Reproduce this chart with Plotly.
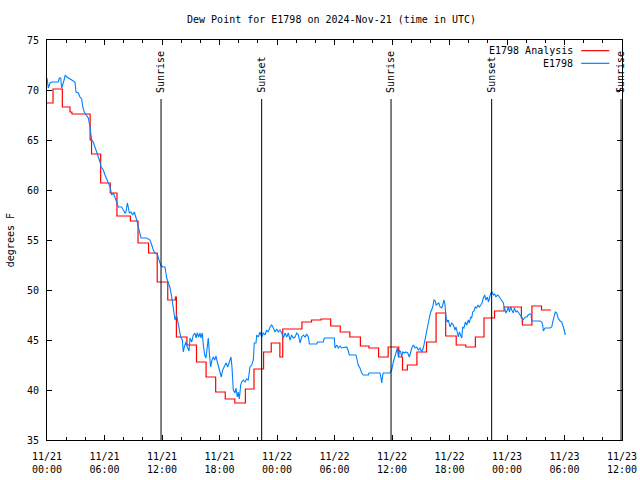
import pandas as pd
import plotly.graph_objects as go

BASE = pd.Timestamp("2024-11-21 00:00")

# Analysis series (step function): hours after 11/21 00:00 UTC, degrees F
red_hours = [0.0, 0.63, 1.6, 2.4, 2.6, 4.5, 4.65, 5.6, 6.6, 7.3, 8.7, 9.5, 10.6, 11.5,
             12.6, 13.4, 13.5, 14.6, 15.6, 16.6, 17.6, 18.6, 19.6, 20.7, 21.6, 22.6,
             23.4, 24.3, 24.6, 26.6, 27.6, 28.6, 29.6, 30.6, 31.6, 32.7, 33.6, 34.6,
             35.6, 36.7, 37.1, 37.6, 38.6, 39.6, 40.6, 41.6, 42.7, 43.7, 44.7, 45.6,
             46.7, 47.7, 49.5, 49.6, 50.6, 51.6, 52.6]
red_vals = [68.7, 70.1, 68.3, 67.8, 67.6, 65.0, 63.6, 60.7, 59.7, 57.4, 56.9, 54.7, 53.7, 50.8,
            49.0, 49.3, 45.3, 44.5, 42.8, 41.3, 39.8, 39.1, 38.7, 40.1, 42.1, 43.8,
            44.7, 43.3, 46.1, 46.8, 47.0, 47.1, 46.4, 45.8, 45.3, 44.4, 44.2, 43.3,
            44.3, 43.3, 42.0, 42.5, 43.8, 44.8, 47.7, 45.4, 44.5, 44.3, 45.3, 47.2,
            47.9, 48.3, 47.2, 46.5, 48.4, 48.0, 48.0]

# Observed series
obs_hours = [0.0, 0.14, 0.31, 0.55, 1.18, 1.28, 1.43, 1.53, 1.70, 1.91, 2.06, 2.33, 2.58, 2.92,
             3.03, 3.27, 3.44, 3.62, 3.73, 3.89, 4.14, 4.31, 4.49, 4.59, 4.66, 4.83, 4.94,
             5.11, 5.25, 5.40, 5.53, 5.64, 5.88, 6.05, 6.23, 6.40, 6.58, 6.75, 6.92, 7.10,
             7.27, 7.44, 7.79, 7.96, 8.14, 8.24, 8.38, 8.48, 8.59, 8.77, 8.94, 9.11, 9.29,
             9.42, 9.60, 9.71, 9.81, 10.40, 10.75, 10.93, 11.09, 11.27, 11.51, 11.69, 11.86,
             12.07, 12.31, 12.49, 12.66, 12.84, 13.01, 13.12, 13.25, 13.36, 13.53, 13.64,
             13.81, 13.95, 14.12, 14.22, 14.33, 14.50, 14.64, 14.82, 14.92, 15.10, 15.27,
             15.44, 15.55, 15.68, 15.83, 15.97, 16.07, 16.21, 16.31, 16.46, 16.59, 16.73,
             16.83, 16.94, 17.08, 17.22, 17.35, 17.50, 17.64, 17.77, 17.92, 18.05, 18.19,
             18.33, 18.50, 18.68, 18.86, 19.02, 19.10, 19.20, 19.30, 19.44, 19.62, 19.72,
             19.86, 19.96, 20.07, 20.21, 20.32, 20.48, 20.66, 20.84, 21.00, 21.18, 21.36,
             21.53, 21.63, 21.81, 21.88, 22.05, 22.23, 22.40, 22.57, 22.75, 22.92, 23.09,
             23.27, 23.45, 23.62, 23.79, 23.97, 24.14, 24.31, 24.49, 24.66, 24.84, 25.01,
             25.18, 25.36, 25.53, 25.70, 25.88, 26.06, 26.23, 26.40, 26.58, 26.75, 26.93,
             27.10, 27.27, 27.38, 28.14, 28.23, 28.83, 28.94, 29.98, 30.05, 30.23, 30.40,
             30.58, 30.75, 31.27, 31.41, 31.55, 32.24, 32.32, 32.48, 32.66, 32.84, 33.00,
             33.53, 33.60, 34.75, 34.85, 34.93, 35.03, 35.09, 35.79, 35.97, 36.14, 36.31,
             36.42, 36.56, 36.66, 36.77, 36.91, 37.01, 37.12, 37.28, 37.46, 37.64, 37.81,
             38.06, 38.23, 38.41, 38.58, 38.75, 38.92, 39.10, 39.27, 39.44, 39.55, 39.68,
             39.79, 39.89, 40.04, 40.14, 40.25, 40.38, 40.52, 40.60, 40.73, 40.88, 41.01,
             41.19, 41.29, 41.43, 41.53, 41.64, 41.77, 41.88, 42.05, 42.23, 42.40, 42.58,
             42.68, 42.82, 42.92, 43.03, 43.17, 43.28, 43.38, 43.51, 43.65, 43.80, 43.97,
             44.07, 44.21, 44.32, 44.42, 44.56, 44.69, 44.84, 44.98, 45.12, 45.26, 45.39,
             45.53, 45.67, 45.81, 45.95, 46.06, 46.16, 46.31, 46.44, 46.58, 46.72, 46.85,
             46.99, 47.13, 47.27, 47.45, 47.62, 47.72, 47.90, 48.04, 48.14, 48.25, 48.39,
             48.50, 48.66, 48.77, 48.94, 49.08, 49.19, 49.37, 49.50, 49.67, 49.81, 49.92,
             50.09, 50.20, 50.37, 50.51, 50.58, 51.45, 51.62, 51.73, 51.79, 51.97, 52.49,
             52.67, 52.77, 52.91, 53.04, 53.19, 53.33, 53.54, 53.71, 53.88, 53.98, 54.09]
obs_vals = [71.2, 70.2, 70.7, 70.8, 70.8, 71.2, 71.2, 70.2, 70.7, 71.5, 71.3, 71.1, 71.0, 70.8,
            69.8, 69.7, 69.3, 69.1, 68.3, 67.8, 67.5, 67.2, 66.3, 65.7, 65.0, 64.8, 64.5,
            64.0, 63.5, 63.2, 62.8, 62.3, 62.0, 61.5, 61.0, 60.7, 60.3, 59.5, 59.7, 59.3,
            58.8, 58.3, 58.3, 58.0, 57.7, 57.8, 58.7, 58.3, 57.7, 57.8, 57.5, 57.8, 57.3,
            56.8, 56.0, 55.7, 55.2, 55.2, 55.0, 54.5, 54.0, 53.7, 53.6, 53.0, 52.5,
            52.3, 52.3, 51.2, 50.7, 50.2, 49.3, 48.5, 48.0, 47.0, 47.5, 46.8,
            46.0, 45.3, 45.0, 43.8, 44.3, 44.8, 44.3, 43.9, 45.2, 44.8, 45.5,
            45.7, 45.2, 45.7, 45.3, 45.7, 45.2, 45.7, 44.5, 43.5, 43.2, 44.3,
            45.2, 43.7, 42.3, 43.0, 43.3, 43.0, 43.4, 42.8, 42.3, 42.0, 41.3,
            42.0, 42.3, 42.7, 42.3, 42.8, 43.2, 43.3, 42.3, 40.0, 39.7, 40.2,
            39.3, 39.8, 39.1, 40.5, 40.8, 41.0, 40.8, 41.1, 41.0, 42.3, 42.5,
            43.0, 44.7, 44.7, 45.5, 45.3, 45.8, 45.3, 45.7, 45.5, 46.0, 45.8,
            46.3, 46.5, 46.2, 45.8, 46.1, 45.8, 46.0, 45.7, 45.2, 45.7, 45.3,
            45.7, 45.0, 45.5, 45.2, 45.3, 45.7, 45.5, 44.7, 45.3, 45.5, 45.3,
            45.6, 45.3, 44.6, 44.6, 44.8, 44.8, 45.2, 45.2, 44.2, 44.5, 44.2,
            44.4, 44.2, 44.3, 44.0, 43.5, 43.5, 43.2, 42.5, 42.2, 41.7, 41.5,
            41.5, 41.7, 41.7, 41.2, 40.7, 41.5, 41.7, 41.7, 42.0, 42.8, 43.5,
            43.7, 44.2, 43.3, 44.0, 43.8, 43.3, 43.8, 43.7, 43.8, 43.7, 43.3,
            44.2, 44.5, 44.2, 44.3, 44.0, 44.2, 43.8, 44.2, 45.0, 45.5, 46.2,
            47.0, 47.2, 47.8, 48.0, 48.3, 49.0, 48.9, 48.5, 48.6, 48.7, 48.3,
            48.2, 48.5, 49.0, 48.5, 47.2, 46.8, 47.0, 46.3, 46.7, 46.5, 46.0,
            46.3, 45.7, 45.3, 45.8, 45.5, 45.2, 46.3, 46.2, 46.8, 46.5, 47.0,
            46.7, 47.3, 47.2, 47.8, 47.9, 48.3, 48.2, 48.5, 48.3, 48.5, 48.7,
            49.2, 49.5, 49.0, 49.3, 48.8, 49.3, 49.7, 49.8, 49.5, 49.6, 49.3,
            49.5, 49.4, 49.2, 49.0, 48.7, 48.2, 47.7, 48.0, 48.3, 47.8, 48.3,
            48.0, 47.7, 48.2, 47.8, 47.9, 47.7, 47.5, 47.3, 47.0, 47.2, 47.3,
            47.3, 47.5, 47.6, 47.6, 46.9, 46.9, 46.8, 46.5, 45.9, 46.2, 46.2,
            46.3, 46.8, 47.3, 47.8, 47.7, 47.2, 46.9, 46.8, 46.3, 45.9, 45.5]

# Sunrise / sunset markers (hours after 11/21 00:00 UTC)
sun_labels = ["Sunrise", "Sunset", "Sunrise", "Sunset", "Sunrise"]
sun_hours = [11.9, 22.4, 35.9, 46.4, 59.9]

series_names = ["E1798 Analysis", "E1798"]
series_colors = ["#ff0000", "#0080ff"]


def to_time(hours):
    return [BASE + pd.Timedelta(hours=h) for h in hours]


FONT = "DejaVu Sans Mono"

fig = go.Figure()
fig.add_trace(go.Scatter(x=to_time(red_hours), y=red_vals, mode="lines",
                         line=dict(color=series_colors[0], width=1.2, shape="hv"),
                         name=series_names[0], showlegend=False))
fig.add_trace(go.Scatter(x=to_time(obs_hours), y=obs_vals, mode="lines",
                         line=dict(color=series_colors[1], width=1.1),
                         name=series_names[1], showlegend=False))

# sunrise / sunset lines and labels
for lab, h in zip(sun_labels, sun_hours):
    t = BASE + pd.Timedelta(hours=h)
    fig.add_shape(type="line", xref="x", yref="paper", x0=t, x1=t, y0=0, y1=0.8525,
                  line=dict(color="black", width=1))
    fig.add_annotation(x=t, xref="x", y=0.8625, yref="paper", text=lab, textangle=-90,
                       showarrow=False, xanchor="center", yanchor="bottom",
                       font=dict(family=FONT, size=10, color="black"))

# manual legend (text right of which the line sample sits)
leg_y = [0.9733, 0.9417]
for name, col, yy in zip(series_names, series_colors, leg_y):
    fig.add_annotation(x=0.9185, xref="paper", y=yy, yref="paper", text=name,
                       showarrow=False, xanchor="right", yanchor="middle",
                       font=dict(family=FONT, size=10, color="black"))
    fig.add_shape(type="line", xref="paper", yref="paper", x0=0.929, x1=0.978,
                  y0=yy, y1=yy, line=dict(color=col, width=1.2))

fig.add_annotation(x=-0.064, xref="paper", y=0.5, yref="paper", text="degrees F",
                   textangle=-90, showarrow=False, xanchor="center", yanchor="middle",
                   font=dict(family=FONT, size=10, color="black"))

fig.update_layout(
    width=640, height=480,
    margin=dict(l=47, r=18, t=40, b=40, autoexpand=False),
    paper_bgcolor="white", plot_bgcolor="white",
    font=dict(family=FONT, size=10, color="black"),
    title=dict(text="Dew Point for E1798 on 2024-Nov-21 (time in UTC)",
               x=0.518, xanchor="center", y=1 - 19 / 480, yanchor="middle",
               font=dict(family=FONT, size=10, color="black")),
    showlegend=False,
)
fig.update_xaxes(
    type="date",
    range=[BASE, BASE + pd.Timedelta(hours=60)],
    dtick=6 * 3600 * 1000, tick0=BASE,
    tickformat="%m/%d<br>%H:%M",
    ticks="inside", ticklen=5, tickcolor="black",
    ticklabelstandoff=7,
    minor=dict(dtick=2 * 3600 * 1000, tick0=BASE, ticks="inside", ticklen=3,
               tickcolor="black", showgrid=False),
    showline=True, linecolor="black", linewidth=1, mirror="allticks",
    showgrid=False, zeroline=False, automargin=False,
    tickfont=dict(family=FONT, size=10, color="black"),
)
fig.update_yaxes(
    range=[35, 75], dtick=5,
    ticks="inside", ticklen=5, tickcolor="black",
    ticklabelstandoff=5,
    showline=True, linecolor="black", linewidth=1, mirror="allticks",
    showgrid=False, zeroline=False, automargin=False,
    tickfont=dict(family=FONT, size=10, color="black"),
)

fig.write_html(
    "out.html",
    config={"displayModeBar": False},
    post_script="document.body.style.margin='0px';document.body.style.overflow='hidden';",
)
